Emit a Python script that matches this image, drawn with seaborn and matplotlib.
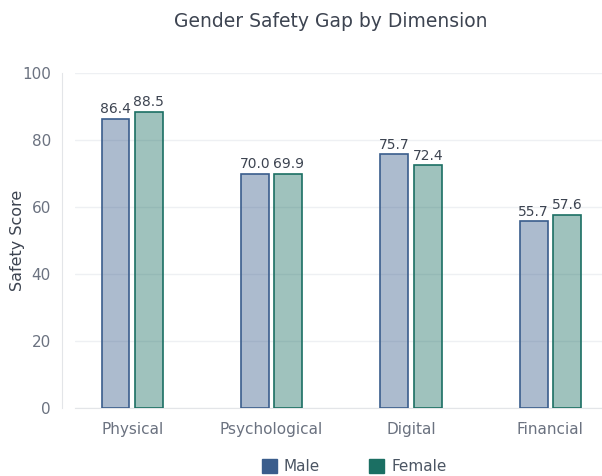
import matplotlib
matplotlib.use("Agg")
import matplotlib.pyplot as plt
import seaborn as sns
import pandas as pd
from matplotlib.patches import Patch

categories = ["Physical", "Psychological", "Digital", "Financial"]
male = [86.4, 70.0, 75.7, 55.7]
female = [88.5, 69.9, 72.4, 57.6]
groups = ["Male", "Female"]
yticks = [0, 20, 40, 60, 80, 100]

edge_colors = {"Male": "#3a5d8c", "Female": "#1b6f63"}

df = pd.DataFrame({
    "Dimension": categories * 2,
    "Score": male + female,
    "Gender": ["Male"] * len(categories) + ["Female"] * len(categories),
})

sns.set_style("white")
plt.rcParams["font.family"] = ["DejaVu Sans"]

fig = plt.figure(figsize=(6.02, 4.76), dpi=100)
ax = fig.add_axes([75 / 602, 1 - 408 / 476, 1 - 75 / 602, (408 - 73) / 476])

sns.barplot(data=df, x="Dimension", y="Score", hue="Gender", order=categories,
            hue_order=groups, palette=edge_colors, width=0.48, gap=0.17,
            ax=ax, legend=False, errorbar=None, zorder=3)

for cont, g in zip(ax.containers, groups):
    for bar in cont:
        bar.set_facecolor(matplotlib.colors.to_rgba(edge_colors[g], 0.42))
        bar.set_edgecolor(edge_colors[g])
        bar.set_linewidth(1.2)
    ax.bar_label(cont, fmt="%.1f", padding=2, fontsize=10, color="#3d4451")

ax.set_xlim(-0.41, 3.37)
ax.set_ylim(0, 100)
ax.set_yticks(yticks)
ax.yaxis.grid(True, color="#eef0f3", linewidth=1, zorder=0)
ax.set_axisbelow(True)

for s in ["top", "right"]:
    ax.spines[s].set_visible(False)
ax.spines["left"].set_position(("outward", 13 * 0.72))
ax.spines["left"].set_color("#e3e5e8")
ax.spines["bottom"].set_color("#e3e5e8")

ax.tick_params(axis="y", length=3, color="#e3e5e8", labelsize=11, labelcolor="#6b7280", pad=5)
ax.tick_params(axis="x", length=0, labelsize=11, labelcolor="#6b7280", pad=10)

ax.set_xlabel("")
ax.set_ylabel("Safety Score", fontsize=11.5, color="#3d4451", labelpad=-2)

fig.suptitle("Gender Safety Gap by Dimension", x=0.55, y=0.975, fontsize=13.5, color="#3d4451")

handles = [Patch(facecolor=edge_colors[g], edgecolor=edge_colors[g]) for g in groups]
fig.legend(handles, groups, loc="lower center", bbox_to_anchor=(0.588, -0.025), ncol=2,
           frameon=False, fontsize=11, labelcolor="#4b5563", handlelength=1.0,
           handleheight=1.0, columnspacing=3.2, handletextpad=0.45)

fig.savefig("out.png", dpi=100)
